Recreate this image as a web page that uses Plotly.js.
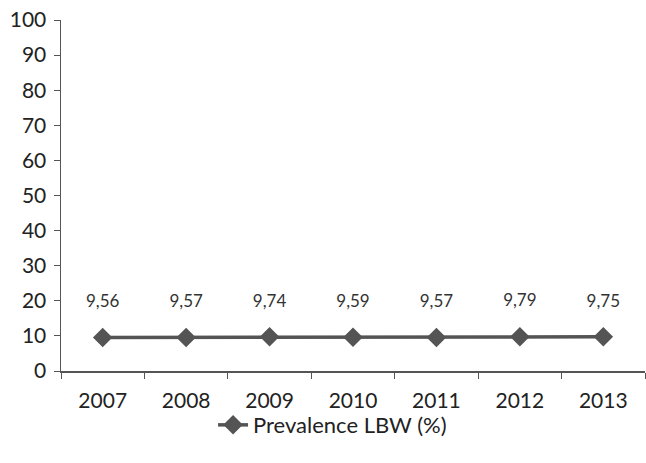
<!DOCTYPE html>
<html><head><meta charset="utf-8">
<script src="https://cdn.plot.ly/plotly-3.0.1.min.js"></script>
<style>html,body{margin:0;padding:0;background:#fff}</style>
</head><body>
<div id="chart" style="width:646px;height:463px"></div>
<script>
const years = ['2007','2008','2009','2010','2011','2012','2013'];
const prevalence = [9.56, 9.57, 9.74, 9.59, 9.57, 9.79, 9.75];
const labels = ['9,56','9,57','9,74','9,59','9,57','9,79','9,75'];
const seriesName = 'Prevalence LBW (%)';

const font = 'Lato, "Open Sans", sans-serif';
const trace = {
  x: years, y: prevalence, type: 'scatter', mode: 'lines+markers',
  name: seriesName,
  line: {color: '#545454', width: 3.5},
  marker: {symbol: 'diamond', size: 15, color: '#545454'}
};
const labelTrace = {
  x: years, y: prevalence, type: 'scatter', mode: 'markers+text',
  text: labels, textposition: 'top center', showlegend: false, hoverinfo: 'skip',
  marker: {size: 40, color: 'rgba(0,0,0,0)'},
  textfont: {family: font, size: 17, color: '#333'}, cliponaxis: false
};
const layout = {
  width: 646, height: 463,
  margin: {l: 61, r: 1, t: 20, b: 92, autoexpand: false},
  paper_bgcolor: '#fff', plot_bgcolor: '#fff',
  font: {family: font, color: '#222'},
  showlegend: true,
  legend: {orientation: 'h', x: 0.465, xanchor: 'center', y: -0.154, yanchor: 'middle',
           bgcolor: 'rgba(0,0,0,0)',
           font: {family: font, size: 22, color: '#222'}},
  xaxis: {type: 'category', range: [-0.5, 6.5], showline: true, linecolor: '#555', linewidth: 1.5,
          ticks: 'outside', tickson: 'boundaries', ticklen: 6, tickcolor: '#555', ticklabelstandoff: 10,
          tickangle: 0, showgrid: false, zeroline: false, tickfont: {family: font, size: 21, color: '#222'}},
  yaxis: {range: [0, 100], dtick: 10, showline: true, linecolor: '#555', linewidth: 1.5,
          ticks: 'outside', ticklen: 6, tickcolor: '#555', showgrid: false, zeroline: false,
          tickfont: {family: font, size: 21, color: '#222'}, ticklabelstandoff: 3}
};
Plotly.newPlot('chart', [trace, labelTrace], layout, {displayModeBar: false, staticPlot: true});
</script>
</body></html>
